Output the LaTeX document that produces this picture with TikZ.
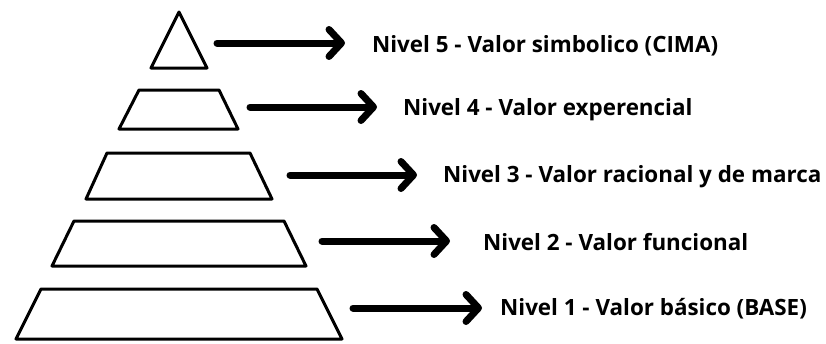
\documentclass[tikz,border=0pt]{standalone}
\usepackage{fontspec}
\setmainfont{Open Sans}
\usetikzlibrary{arrows.meta}
\begin{document}
\begin{tikzpicture}[x=1pt,y=-1pt,
  level/.style={draw=black, line width=3pt, line join=round, fill=white},
  label/.style={anchor=base west, inner sep=0pt, font=\fontsize{22.4}{25}\selectfont\bfseries},
  pointer/.style={line width=7pt, line cap=round, line join=round,
    -{Straight Barb[length=12.5pt 0 0, width=27pt 0 0, round]}}]
\useasboundingbox (0,0) rectangle (826,343);

% pyramid levels
\draw[level] (179,12) -- (207,68) -- (151,68) -- cycle;
\draw[level] (139,90) -- (219,90) -- (238,129) -- (119,129) -- cycle;
\draw[level] (107,153) -- (250,153) -- (272,199) -- (86,199) -- cycle;
\draw[level] (74,221) -- (284,221) -- (306,266) -- (52,266) -- cycle;
\draw[level] (41,289) -- (317,289) -- (342,339) -- (16,339) -- cycle;

% arrow starts
\coordinate (s5) at (217,43);
\coordinate (s4) at (250,107);
\coordinate (s3) at (290,175);
\coordinate (s2) at (322,241);
\coordinate (s1) at (353,308);

% labels
\node[label] (t5) at (372,52) {Nivel 5 - Valor simbolico (CIMA)};
\node[label] (t4) at (403,115) {Nivel 4 - Valor experencial};
\node[label] (t3) at (443,182) {Nivel 3 - Valor racional y de marca};
\node[label] (t2) at (483,250) {Nivel 2 - Valor funcional};
\node[label] (t1) at (500,315) {Nivel 1 - Valor básico (BASE)};

% arrows
\draw[pointer] (s5) -- (s5 -| 345,0);
\draw[pointer] (s4) -- (s4 -| 377,0);
\draw[pointer] (s3) -- (s3 -| 417,0);
\draw[pointer] (s2) -- (s2 -| 450,0);
\draw[pointer] (s1) -- (s1 -| 482,0);
\end{tikzpicture}
\end{document}
